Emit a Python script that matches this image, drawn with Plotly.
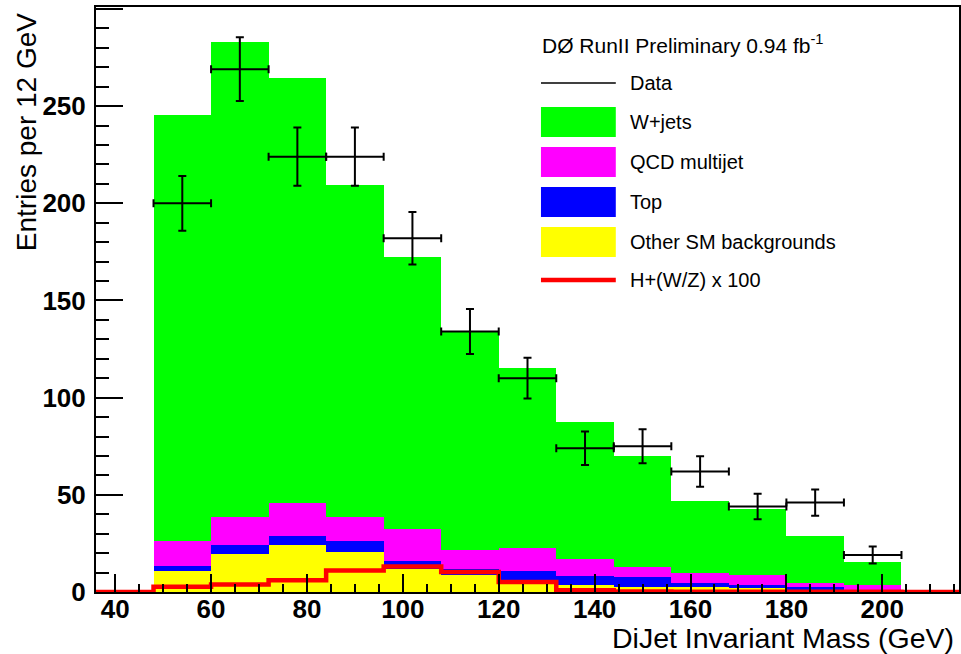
import plotly.graph_objects as go

# Di-jet invariant mass histogram, 12 GeV bins from 48 to 204 GeV
bin_edges = [48, 60, 72, 84, 96, 108, 120, 132, 144, 156, 168, 180, 192, 204]
bin_centers = [54, 66, 78, 90, 102, 114, 126, 138, 150, 162, 174, 186, 198]

# Observed events per bin
data_counts = [200, 269, 224, 224, 182, 134, 110, 74, 75, 62, 44, 46, 19]
data_errors = [14.1, 16.4, 15.0, 15.0, 13.5, 11.6, 10.5, 8.6, 8.7, 7.9, 6.6, 6.8, 4.4]

# Expected backgrounds (stacked, bottom to top)
other_sm = [11.0, 19.4, 24.0, 20.6, 11.6, 8.5, 5.5, 3.6, 2.7, 2.7, 2.2, 1.2, 0.4]
top_bkg = [2.4, 4.6, 4.8, 5.8, 4.2, 3.5, 5.5, 4.8, 4.8, 2.1, 1.4, 1.2, 0.6]
qcd_multijet = [13.0, 14.4, 16.8, 12.0, 16.6, 9.6, 11.8, 8.4, 5.5, 4.8, 5.0, 2.4, 2.4]
w_jets = [219.1, 244.5, 218.9, 171.0, 139.9, 112.4, 92.6, 70.8, 57.0, 37.4, 33.9, 24.0, 12.2]

# Signal H+(W/Z), scaled by 100
higgs_x100 = [2.7, 3.8, 6.0, 11.0, 13.1, 10.3, 5.2, 0.9, 0.2, 0.1, 0.1, 0.1, 0.1]

x_range = [36, 216]
y_range = [0, 301]

GREEN = "#00ff00"
MAGENTA = "#ff00ff"
BLUE = "#0000ff"
YELLOW = "#ffff00"
RED = "#ff0000"

W, H = 961, 654
ML, MR, MT, MB = 96, 0, 7, 62
PW, PH = W - ML - MR, H - MT - MB

FONT = "Liberation Sans, Arial, sans-serif"


def px_x(px):
    return (px - ML) / PW


def px_y(py):
    return (H - MB - py) / PH


fig = go.Figure()

for vals, color, name in [
    (other_sm, YELLOW, "Other SM backgrounds"),
    (top_bkg, BLUE, "Top"),
    (qcd_multijet, MAGENTA, "QCD multijet"),
    (w_jets, GREEN, "W+jets"),
]:
    fig.add_trace(go.Bar(
        x=bin_centers, y=vals, width=12, name=name,
        marker=dict(color=color, line=dict(width=0)),
        showlegend=False,
    ))

# Signal as a step line across the full axis range
step_x = [x_range[0]] + bin_edges + [x_range[1]]
step_y = [0] + higgs_x100 + [0, 0]
fig.add_trace(go.Scatter(
    x=step_x, y=step_y, mode="lines", line_shape="hv",
    line=dict(color=RED, width=4.5), showlegend=False, name="H+(W/Z) x 100",
))

# Data points with statistical errors and half-bin horizontal bars
fig.add_trace(go.Scatter(
    x=bin_centers, y=data_counts, mode="markers",
    marker=dict(size=2, color="black"),
    error_y=dict(type="data", array=data_errors, color="black", thickness=2, width=4),
    error_x=dict(type="constant", value=6, color="black", thickness=2, width=4),
    showlegend=False, name="Data",
))

tick_font = dict(family=FONT, size=26, color="black", weight="bold")

fig.update_xaxes(
    range=x_range, showline=True, linecolor="black", linewidth=2, mirror=True,
    ticks="inside", ticklen=18, tickwidth=2, tickcolor="black",
    tick0=0, dtick=20, tickfont=tick_font, ticklabelstandoff=-7,
    minor=dict(ticks="inside", ticklen=8, tickwidth=2, tickcolor="black", dtick=5, tick0=0),
    showgrid=False, zeroline=False, layer="above traces",
)
fig.update_yaxes(
    range=y_range, showline=True, linecolor="black", linewidth=2, mirror=True,
    ticks="inside", ticklen=27, tickwidth=2, tickcolor="black",
    tick0=0, dtick=50, tickfont=tick_font, ticklabelstandoff=3,
    minor=dict(ticks="inside", ticklen=13, tickwidth=2, tickcolor="black", dtick=10, tick0=0),
    showgrid=False, zeroline=False, layer="above traces",
)

shapes = []
annotations = []

# Axis titles
annotations.append(dict(
    text="DiJet Invariant Mass (GeV)", xref="paper", yref="paper",
    x=1, y=px_y(638), xanchor="right", yanchor="middle", xshift=-3,
    showarrow=False, font=dict(family=FONT, size=28.5, color="black"),
))
annotations.append(dict(
    text="Entries per 12 GeV", xref="paper", yref="paper",
    x=px_x(26), y=px_y(11), xanchor="center", yanchor="top", textangle=-90,
    showarrow=False, font=dict(family=FONT, size=28, color="black"),
))

# Legend drawn in the upper right of the frame
leg_font = dict(family=FONT, size=20, color="black")
annotations.append(dict(
    text="DØ RunII Preliminary 0.94 fb<sup>-1</sup>", xref="paper", yref="paper",
    x=px_x(541), y=px_y(44), xanchor="left", yanchor="middle",
    showarrow=False, font=dict(family=FONT, size=21, color="black"),
))

legend_rows = [
    ("line", "black", 1.5, "Data", 83),
    ("box", GREEN, None, "W+jets", 122),
    ("box", MAGENTA, None, "QCD multijet", 162),
    ("box", BLUE, None, "Top", 202),
    ("box", YELLOW, None, "Other SM backgrounds", 242),
    ("line", RED, 4.5, "H+(W/Z) x 100", 280),
]
for kind, color, lw, label, yc in legend_rows:
    if kind == "box":
        shapes.append(dict(
            type="rect", xref="paper", yref="paper",
            x0=px_x(542), x1=px_x(617), y0=px_y(yc - 15), y1=px_y(yc + 15),
            fillcolor=color, line=dict(width=0),
        ))
    else:
        shapes.append(dict(
            type="line", xref="paper", yref="paper",
            x0=px_x(542), x1=px_x(617), y0=px_y(yc), y1=px_y(yc),
            line=dict(color=color, width=lw),
        ))
    annotations.append(dict(
        text=label, xref="paper", yref="paper",
        x=px_x(629), y=px_y(yc), xanchor="left", yanchor="middle",
        showarrow=False, font=leg_font,
    ))

fig.update_layout(
    width=W, height=H, barmode="stack", bargap=0,
    margin=dict(l=ML, r=MR, t=MT, b=MB),
    paper_bgcolor="white", plot_bgcolor="white",
    shapes=shapes, annotations=annotations,
    showlegend=False,
)

fig.write_html("out.html")
